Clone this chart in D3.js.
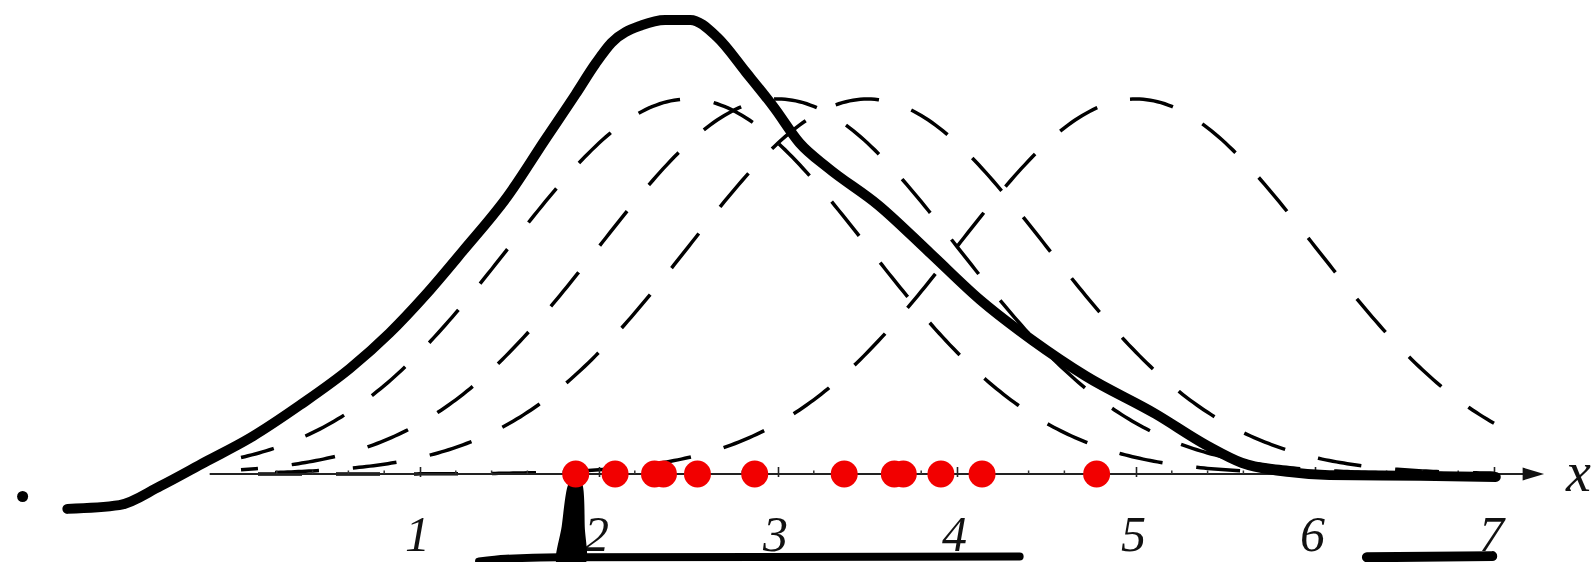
<!DOCTYPE html>
<html>
<head>
<meta charset="utf-8">
<script src="https://cdn.jsdelivr.net/npm/d3@7/dist/d3.min.js"></script>
<style>
  html, body { margin: 0; padding: 0; background: #fff; }
  svg { display: block; }
</style>
</head>
<body>
<svg id="chart" width="1596" height="562"></svg>
<script>
// Gaussian kernels (dashed): centre, spread and peak height
const kernelCenters = [2.5, 3.0, 3.5, 5.0];
const kernelSigmas  = [1, 1, 1, 1];
const kernelHeights = [1, 1, 1, 1];

// Sample points on the x axis
const samplePoints = [1.87, 2.09, 2.31, 2.36, 2.55, 2.87, 3.37, 3.65, 3.70, 3.91, 4.14, 4.78];

// Freehand density curve (solid)
const densityX = [-0.97, -0.68, -0.45, -0.20, 0.05, 0.33, 0.61, 0.83, 1.03, 1.24, 1.49, 1.70,
                  1.87, 1.98, 2.07, 2.24, 2.37, 2.51, 2.66, 2.82, 2.98, 3.12, 3.28, 3.56,
                  3.85, 4.13, 4.42, 4.72, 5.11, 5.40, 5.59, 5.86, 6.08, 6.59, 7.01];
const densityY = [-0.093, -0.083, -0.032, 0.032, 0.096, 0.184, 0.282, 0.376, 0.477, 0.595, 0.741, 0.892,
                  1.013, 1.094, 1.150, 1.197, 1.211, 1.211, 1.165, 1.072, 0.976, 0.883, 0.816, 0.717,
                  0.589, 0.464, 0.357, 0.261, 0.160, 0.075, 0.030, 0.005, -0.003, -0.005, -0.008];

// Axis ticks and labels
const majorTicks = [1, 2, 3, 4, 5, 6, 7];
const tickLabels = ["1", "2", "3", "4", "5", "6", "7"];
const axisName = "x";

// Pen strokes around the axis
const penDot = [[-1.22, -0.06]];
const penStrokes = [
  [[1.33, -0.233], [1.48, -0.226], [1.78, -0.222], [4.35, -0.22]],
  [[6.29, -0.222], [6.99, -0.219]]
];
const penBlob = [[1.835, -0.030], [1.800, -0.140], [1.772, -0.240], [1.915, -0.240], [1.912, -0.140], [1.900, -0.030]];

const svg = d3.select("#chart");
const x = d3.scaleLinear().domain([0, 7]).range([241, 1494]);
const y = d3.scaleLinear().domain([0, 1]).range([474, 99]);

// dashed kernels
const xs = d3.range(0, 7.0001, 0.02);
const kernelLine = d3.line().x(d => x(d[0])).y(d => y(d[1]));
kernelCenters.forEach((c, i) => {
  const s = kernelSigmas[i], h = kernelHeights[i];
  const pts = xs.map(v => [v, h * Math.exp(-((v - c) * (v - c)) / (2 * s * s))]);
  svg.append("path")
    .attr("d", kernelLine(pts))
    .attr("fill", "none")
    .attr("stroke", "#000")
    .attr("stroke-width", 3.5)
    .attr("stroke-dasharray", "44,34")
    .attr("stroke-dashoffset", 10 + i * 17);
});

// axis
const axisY = y(0);
const axisG = svg.append("g").attr("transform", `translate(0,${axisY})`);
axisG.append("line")
  .attr("x1", x(-0.175)).attr("x2", x(7.18))
  .attr("y1", 0).attr("y2", 0)
  .attr("stroke", "#222").attr("stroke-width", 2);
axisG.append("path")
  .attr("d", `M${x(7.16)},-6.5 L${x(7.28)},0 L${x(7.16)},6.5 Z`)
  .attr("fill", "#111");

// minor ticks
const minorTicks = d3.range(0, 7.001, 0.2).filter(v => Math.abs(v - Math.round(v)) > 0.01);
axisG.selectAll("line.minor").data(minorTicks).join("line")
  .attr("class", "minor")
  .attr("x1", d => x(d)).attr("x2", d => x(d))
  .attr("y1", -3.5).attr("y2", 0)
  .attr("stroke", "#333").attr("stroke-width", 1.5);

const axis = d3.axisBottom(x)
  .tickValues(majorTicks)
  .tickFormat((d, i) => tickLabels[i])
  .tickSizeOuter(0);
const tickG = svg.append("g").attr("transform", `translate(0,${axisY})`).call(axis);
tickG.select(".domain").remove();
tickG.selectAll(".tick line")
  .attr("y1", -7).attr("y2", 3)
  .attr("stroke", "#222").attr("stroke-width", 1.6);
tickG.selectAll(".tick text")
  .attr("y", 77).attr("dy", 0).attr("dx", -3)
  .attr("fill", "#111")
  .style("font-family", "'Liberation Serif', 'DejaVu Serif', serif")
  .style("font-style", "italic")
  .style("font-size", "50px");

svg.append("text")
  .attr("x", 1566).attr("y", 491)
  .attr("fill", "#111")
  .style("font-family", "'Liberation Serif', 'DejaVu Serif', serif")
  .style("font-style", "italic")
  .style("font-size", "56px")
  .text(axisName);

// solid density curve
const densityLine = d3.line()
  .x(d => x(d[0])).y(d => y(d[1]))
  .curve(d3.curveMonotoneX);
svg.append("path")
  .attr("d", densityLine(densityX.map((v, i) => [v, densityY[i]])))
  .attr("fill", "none")
  .attr("stroke", "#000")
  .attr("stroke-width", 10)
  .attr("stroke-linecap", "round")
  .attr("stroke-linejoin", "round");

// pen strokes
const penLine = d3.line().x(d => x(d[0])).y(d => y(d[1])).curve(d3.curveMonotoneX);
svg.selectAll("path.pen").data(penStrokes).join("path")
  .attr("class", "pen")
  .attr("d", penLine)
  .attr("fill", "none")
  .attr("stroke", "#000")
  .attr("stroke-width", (d, i) => i === 0 ? 8 : 10)
  .attr("stroke-linecap", "round");
svg.append("path")
  .attr("d", d3.line().x(d => x(d[0])).y(d => y(d[1])).curve(d3.curveCardinalClosed)(penBlob))
  .attr("fill", "#000")
  .attr("stroke", "#000")
  .attr("stroke-width", 3);
svg.selectAll("circle.pendot").data(penDot).join("circle")
  .attr("class", "pendot")
  .attr("cx", d => x(d[0])).attr("cy", d => y(d[1]))
  .attr("r", 5.5).attr("fill", "#000");

// sample points
svg.selectAll("circle.sample").data(samplePoints).join("circle")
  .attr("class", "sample")
  .attr("cx", d => x(d)).attr("cy", axisY)
  .attr("r", 13.5)
  .attr("fill", "#f20000");
</script>
</body>
</html>
